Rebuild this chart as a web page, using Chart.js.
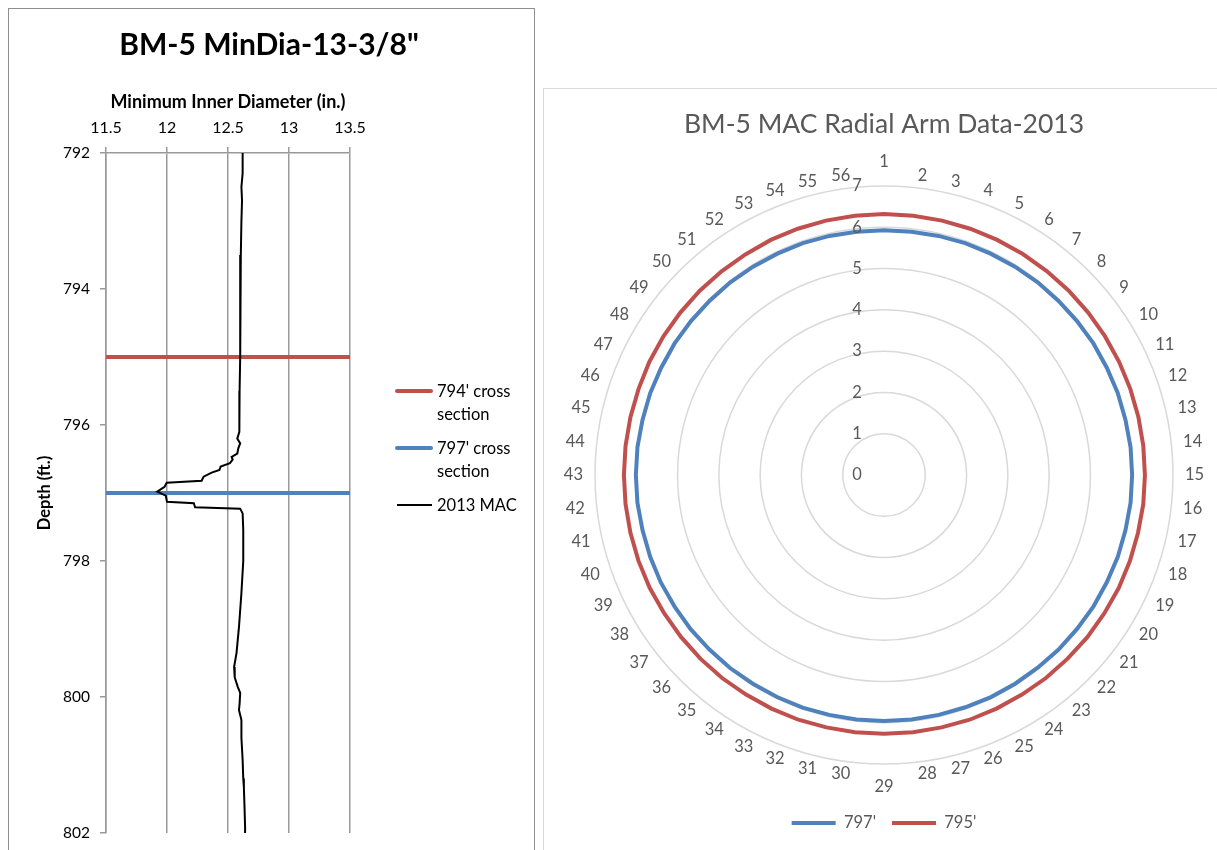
<!DOCTYPE html>
<html>
<head>
<meta charset="utf-8">
<script src="https://cdn.jsdelivr.net/npm/chart.js@4.4.1/dist/chart.umd.min.js"></script>
<style>
  html, body { margin: 0; padding: 0; background: #fff; width: 1217px; height: 850px; overflow: hidden; font-family: Lato, sans-serif; }
  .panel { position: absolute; box-sizing: border-box; }
  #left-panel { left: 8px; top: 8px; width: 527px; height: 870px; border: 1px solid #8f8f8f; }
  #right-panel { left: 543px; top: 88px; width: 690px; height: 790px; border: 1px solid #d9d9d9; }
  .box { position: absolute; left: 0; top: 0; }
  #left-box { width: 525px; height: 841px; }
  #right-box { width: 673px; height: 761px; }
  .lg-text { position: absolute; font-size: 16.5px; line-height: 23px; color: #000; white-space: nowrap; }
  .lg-sw { position: absolute; }
</style>
</head>
<body>
<div id="left-panel" class="panel"><div id="left-box" class="box"><canvas id="depth-chart"></canvas></div></div>
<div id="right-panel" class="panel"><div id="right-box" class="box"><canvas id="radial-chart"></canvas></div></div>

<!-- left chart legend (labels wrap onto two lines, which Chart.js legends can't do) -->
<div class="lg-sw" style="left:395px;top:389px;width:38px;height:4px;background:#C0504D;border-radius:2px"></div>
<div class="lg-text" style="left:437px;top:380px">794' cross<br>section</div>
<div class="lg-sw" style="left:395px;top:446px;width:38px;height:4px;background:#4F81BD;border-radius:2px"></div>
<div class="lg-text" style="left:437px;top:437px">797' cross<br>section</div>
<div class="lg-sw" style="left:397px;top:504px;width:35px;height:2px;background:#000"></div>
<div class="lg-text" style="left:437px;top:494px">2013 MAC</div>

<script>
// ── data: left chart (depth log) ─────────────────────────────────────────────
var macDepth = [792.0, 792.3, 792.5, 792.7, 793.0, 793.5, 794.0, 794.5, 795.0, 795.5,
  795.9, 796.1, 796.2, 796.27, 796.34, 796.42, 796.47, 796.51, 796.56, 796.61,
  796.66, 796.70, 796.76, 796.82, 796.85, 796.91, 796.98, 797.04, 797.13, 797.15,
  797.21, 797.23, 797.30, 797.54, 798.0, 798.47, 798.97, 799.35, 799.56, 799.71,
  799.85, 799.94, 800.1, 800.19, 800.34, 800.6, 800.93, 801.2, 801.32, 801.6, 801.91, 802.0];
var macMinDia = [12.62, 12.62, 12.61, 12.615, 12.61, 12.605, 12.60, 12.60, 12.60, 12.595,
  12.593, 12.593, 12.576, 12.60, 12.585, 12.576, 12.53, 12.538, 12.516, 12.44,
  12.43, 12.366, 12.30, 12.284, 11.997, 11.98, 11.92, 11.99, 12.0, 12.22,
  12.23, 12.60, 12.62, 12.625, 12.625, 12.61, 12.59, 12.57, 12.55, 12.555,
  12.58, 12.60, 12.595, 12.59, 12.61, 12.61, 12.62, 12.625, 12.63, 12.635, 12.64, 12.64];
var crossSectionDepths = [795, 797];          // red, blue horizontal markers
var diaRange = [11.5, 13.5];
var depthRange = [792, 802];
var depthTicks = [792, 794, 796, 798, 800, 802];

// ── data: right chart (radial arms) ──────────────────────────────────────────
var armLabels = [];
for (var i = 1; i <= 56; i++) armLabels.push(String(i));
var arm797 = [5.93, 5.93, 5.94, 5.95, 5.95, 5.96, 5.97, 5.97, 5.98, 5.99, 5.99, 6.00, 6.00, 6.01,
  6.01, 6.01, 6.00, 6.00, 5.99, 5.99, 5.98, 5.98, 5.97, 5.97, 5.97, 5.96, 5.96, 5.96,
  5.96, 5.96, 5.96, 5.97, 5.97, 5.97, 5.98, 5.98, 5.99, 5.99, 6.00, 6.00, 6.00, 6.01,
  6.01, 6.01, 6.00, 6.00, 5.99, 5.99, 5.98, 5.97, 5.97, 5.96, 5.95, 5.95, 5.94, 5.93];
var arm795 = [6.32, 6.32, 6.32, 6.32, 6.32, 6.32, 6.32, 6.32, 6.32, 6.32, 6.32, 6.32, 6.32, 6.32,
  6.32, 6.32, 6.31, 6.31, 6.31, 6.30, 6.30, 6.29, 6.29, 6.28, 6.28, 6.28, 6.27, 6.27,
  6.27, 6.27, 6.27, 6.28, 6.28, 6.28, 6.29, 6.29, 6.29, 6.29, 6.30, 6.30, 6.30, 6.30,
  6.30, 6.30, 6.30, 6.30, 6.31, 6.31, 6.31, 6.31, 6.31, 6.31, 6.32, 6.32, 6.32, 6.32];

var RED = "#C0504D", BLUE = "#4F81BD", GRID = "#999999", GREY_TXT = "#595959";
Chart.defaults.font.family = "Lato";

// ── left chart ───────────────────────────────────────────────────────────────
function hLine(depth) {
  return [{ x: diaRange[0], y: depth }, { x: diaRange[1], y: depth }];
}
var macPoints = macDepth.map(function (d, k) { return { x: macMinDia[k], y: d }; });

// depth labels: right-aligned 16px left of the axis line, placed through the y scale
var depthLabels = {
  id: "depthLabels",
  afterDraw: function (chart) {
    var y = chart.scales.y, ctx = chart.ctx;
    ctx.save();
    ctx.font = "15.5px Lato";
    ctx.fillStyle = "#000";
    ctx.textAlign = "right";
    ctx.textBaseline = "middle";
    depthTicks.forEach(function (d) { ctx.fillText(String(d), chart.chartArea.left - 16, y.getPixelForValue(d)); });
    ctx.restore();
  }
};

new Chart(document.getElementById("depth-chart"), {
  type: "scatter",
  data: {
    datasets: [
      { label: "2013 MAC", data: macPoints, showLine: true, borderColor: "#000", borderWidth: 2, pointRadius: 0, tension: 0 },
      { label: "794' cross section", data: hLine(crossSectionDepths[0]), showLine: true, borderColor: RED, borderWidth: 4, pointRadius: 0 },
      { label: "797' cross section", data: hLine(crossSectionDepths[1]), showLine: true, borderColor: BLUE, borderWidth: 4, pointRadius: 0 }
    ]
  },
  plugins: [depthLabels],
  options: {
    responsive: true, maintainAspectRatio: false, animation: false,
    layout: { padding: { left: 0, right: 5, top: 0, bottom: 17 } },
    plugins: {
      legend: { display: false },
      tooltip: { enabled: false },
      title: { display: true, text: 'BM-5 MinDia-13-3/8"', color: "#000", font: { size: 30, weight: "bold" }, padding: { top: 18, bottom: 6 } }
    },
    scales: {
      x: {
        type: "linear", position: "top", min: diaRange[0], max: diaRange[1],
        afterFit: function (s) { s.height = 84; },
        ticks: { stepSize: 0.5, color: "#000", font: { size: 16 }, padding: 9.5, callback: function (v) { return String(v); } },
        grid: { color: GRID, lineWidth: 1.5, tickLength: 6 },
        border: { color: GRID, width: 1.5 },
        title: { display: true, text: "Minimum Inner Diameter (in.)", color: "#000", font: { size: 18, weight: "bold" }, padding: { top: 22.2, bottom: 0 } }
      },
      y: {
        type: "linear", reverse: true, min: depthRange[0], max: depthRange[1],
        afterFit: function (s) { s.width = 97; },
        ticks: { stepSize: 2, display: false },
        grid: { drawOnChartArea: false, color: GRID, lineWidth: 1.5, tickLength: 6 },
        border: { color: GRID, width: 1.5 },
        title: { display: true, text: "Depth (ft.)", color: "#000", font: { size: 16.5, weight: "bold" }, padding: { top: 26, bottom: 0 } }
      },
      // empty right-hand axis: reserves room for the HTML legend so the title stays centred on the panel
      legendRoom: {
        type: "linear", position: "right", display: true,
        afterFit: function (s) { s.width = 179; },
        ticks: { display: false }, grid: { display: false }, border: { display: false }
      }
    }
  }
});

// ── right chart ──────────────────────────────────────────────────────────────
// Excel-style spoke labels: left/right aligned at the anchor and vertically centred,
// top and bottom ones centred above/below. Ring values sit left of the vertical, 0 included.
var radialText = {
  id: "radialText",
  afterDatasetsDraw: function (chart) {
    var r = chart.scales.r, ctx = chart.ctx;
    ctx.save();
    ctx.font = "16.5px Lato";
    ctx.fillStyle = GREY_TXT;
    ctx.textBaseline = "middle";
    ctx.textAlign = "center";
    r.ticks.forEach(function (t) {
      ctx.fillText(String(t.value), r.xCenter - 27, r.yCenter - r.getDistanceFromCenterForValue(t.value));
    });
    chart.data.labels.forEach(function (lab, k) {
      var p = r.getPointPosition(k, r.drawingArea + 12);
      var a = r.getIndexAngle(k), y = p.y;
      if (Math.abs(a) < 1e-6) { ctx.textAlign = "center"; y -= 12; }
      else if (Math.abs(a - Math.PI) < 1e-6) { ctx.textAlign = "center"; y += 11; }
      else ctx.textAlign = a < Math.PI ? "left" : "right";
      ctx.fillText(lab, p.x, y);
    });
    ctx.restore();
  }
};

new Chart(document.getElementById("radial-chart"), {
  type: "radar",
  data: {
    labels: armLabels,
    datasets: [
      { label: "797'", data: arm797, borderColor: BLUE, backgroundColor: BLUE, borderWidth: 4, pointRadius: 0, fill: false, borderCapStyle: "round" },
      { label: "795'", data: arm795, borderColor: RED, backgroundColor: RED, borderWidth: 4, pointRadius: 0, fill: false, borderCapStyle: "round" }
    ]
  },
  plugins: [radialText],
  options: {
    responsive: true, maintainAspectRatio: false, animation: false,
    layout: { padding: { left: 7, right: 0, top: 0, bottom: 8.7 } },
    plugins: {
      tooltip: { enabled: false },
      title: { display: true, text: "BM-5 MAC Radial Arm Data-2013", color: GREY_TXT, font: { size: 26.5, weight: "normal" }, padding: { top: 19.1, bottom: 11.3 } },
      legend: {
        position: "bottom",
        labels: { usePointStyle: true, pointStyle: "line", pointStyleWidth: 44, color: GREY_TXT, font: { size: 16.5 }, padding: 16 }
      }
    },
    scales: {
      r: {
        min: 0, max: 7,
        // leave room for the spoke labels drawn by radialText
        afterFit: function (s) { s.drawingArea -= 34; },
        ticks: { display: false, stepSize: 1 },
        grid: { circular: true, color: "#d9d9d9", lineWidth: 1.5 },
        angleLines: { display: false },
        pointLabels: { display: false }
      }
    }
  }
});
</script>
</body>
</html>
